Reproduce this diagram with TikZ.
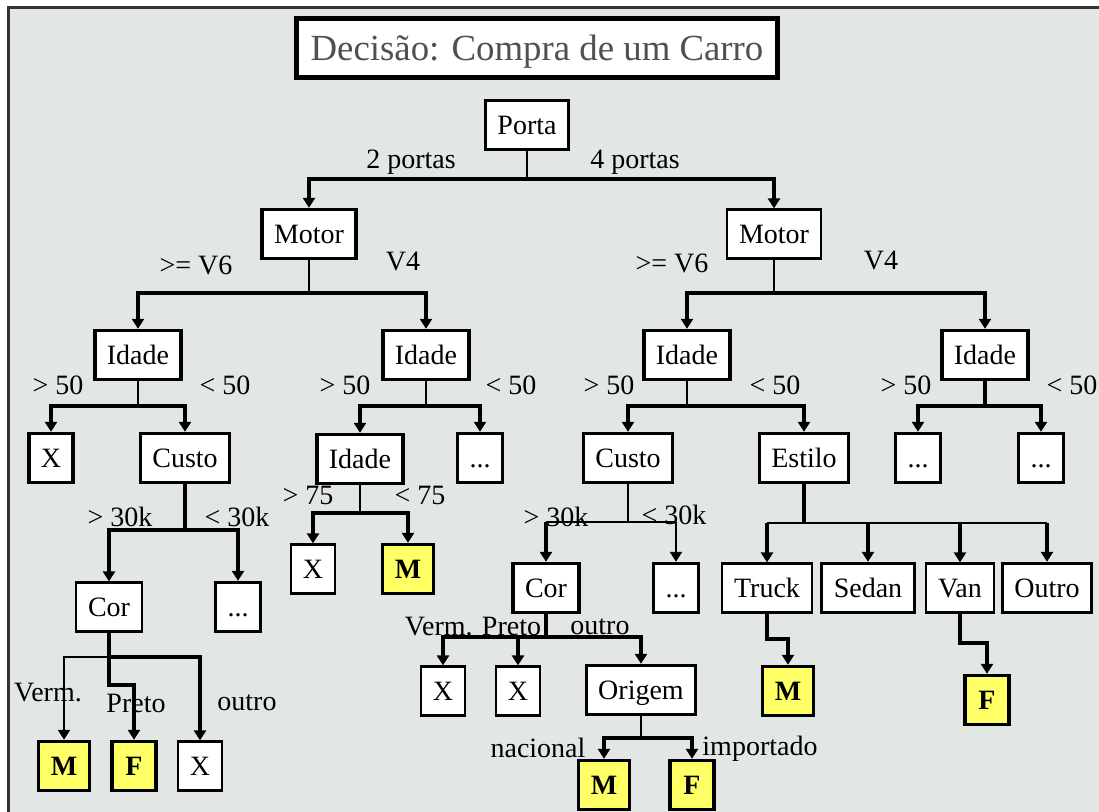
\documentclass[tikz,border=0pt]{standalone}
\usepackage{fontspec}
\setmainfont{Liberation Serif}
\usetikzlibrary{arrows.meta}
\definecolor{bggray}{RGB}{227,231,227}
\definecolor{leafyellow}{RGB}{255,255,102}
\definecolor{titlegray}{RGB}{80,80,80}
\begin{document}
\begin{tikzpicture}[x=0.5pt,y=-0.5pt,
    every node/.style={font=\fontsize{14}{16}\selectfont},
    main node/.style={rectangle,draw,fill=white,line width=1.7pt,inner xsep=6pt,inner ysep=0pt,
                      text height=12pt,text depth=2pt,minimum height=24.5pt,minimum width=22pt},
    light node/.style={main node,line width=1.1pt},
    leaf node/.style={main node,fill=leafyellow,font=\fontsize{14}{16}\selectfont\bfseries},
    stem/.style={line width=1pt},
    link/.style={line width=2pt,-{Triangle[width=6pt,length=5pt]}},
    thin link/.style={line width=1pt,-{Triangle[width=6pt,length=5pt]}}
  ]
  \useasboundingbox (0,0) rectangle (1099,812);
  \draw[fill=bggray,draw=black!80,line width=1.5pt] (8,8) rectangle (1130,840);

  \node[main node,line width=2.5pt,inner xsep=7pt,text height=16pt,text depth=3pt,minimum height=29.5pt,
        font=\fontsize{18.4}{22}\selectfont,text=titlegray] (title) at (537,48) {Decisão: Compra de um Carro};

  % decision nodes
  \node[main node] (porta) at (527,125) {Porta};
  \node[main node] (motorA) at (309,234) {Motor};
  \node[light node] (motorB) at (774,234) {Motor};
  \node[main node] (idadeA) at (138,355) {Idade};
  \node[main node] (idadeB) at (426,355) {Idade};
  \node[main node] (idadeC) at (687,355) {Idade};
  \node[main node] (idadeD) at (985,355) {Idade};
  \node[main node] (xA) at (51,458) {X};
  \node[main node] (custoA) at (185,458) {Custo};
  \node[main node] (idadeE) at (360,459) {Idade};
  \node[main node] (dotsA) at (480,458) {...};
  \node[main node] (custoB) at (628,458) {Custo};
  \node[main node] (estilo) at (804,458) {Estilo};
  \node[main node] (dotsB) at (918,458) {...};
  \node[main node] (dotsC) at (1041,458) {...};
  \node[light node] (xB) at (313,569) {X};
  \node[leaf node] (mA) at (408,569) {M};
  \node[light node] (corA) at (109,607) {Cor};
  \node[main node] (dotsD) at (238,607) {...};
  \node[main node] (corB) at (546,588) {Cor};
  \node[main node] (dotsE) at (676,588) {...};
  \node[light node] (truck) at (767,588) {Truck};
  \node[main node] (sedan) at (868,588) {Sedan};
  \node[light node] (van) at (960,588) {Van};
  \node[main node] (outro) at (1047,588) {Outro};
  \node[leaf node] (mB) at (64,766) {M};
  \node[leaf node] (fA) at (134,766) {F};
  \node[light node] (xC) at (200,766) {X};
  \node[light node] (xD) at (443,691) {X};
  \node[light node] (xE) at (518,691) {X};
  \node[main node] (origem) at (641,690) {Origem};
  \node[leaf node] (mC) at (604,785) {M};
  \node[leaf node] (fB) at (692,785) {F};
  \node[leaf node] (mD) at (788,691) {M};
  \node[leaf node] (fC) at (987,700) {F};

  % branch labels
  \node (l1) at (411,162) {2 portas};
  \node (l2) at (635,162) {4 portas};
  \node (l3) at (196,265) {>= V6};
  \node (l4) at (403,262) {V4};
  \node (l5) at (672,263) {>= V6};
  \node (l6) at (881,261) {V4};
  \node (l7) at (58,385) {> 50};
  \node (l8) at (225,385) {< 50};
  \node (l9) at (345,385) {> 50};
  \node (l10) at (511,385) {< 50};
  \node (l11) at (609,385) {> 50};
  \node (l12) at (775,385) {< 50};
  \node (l13) at (906,385) {> 50};
  \node (l14) at (1072,385) {< 50};
  \node (l15) at (120,517) {> 30k};
  \node (l16) at (237,517) {< 30k};
  \node (l17) at (308,495) {> 75};
  \node (l18) at (420,495) {< 75};
  \node (l19) at (556,517) {> 30k};
  \node (l20) at (674,515) {< 30k};
  \node (l21) at (48,693) {Verm.};
  \node (l22) at (136,703) {Preto};
  \node (l23) at (247,703) {outro};
  \node (l24) at (473,627) {Verm. Preto};
  \node (l25) at (600,627) {outro};
  \node (l26) at (538,748) {nacional};
  \node (l27) at (760,749) {importado};

  % junctions
  \coordinate (jPorta) at (527,179);
  \coordinate (jMotorA) at (309,293);
  \coordinate (jMotorB) at (774,293);
  \coordinate (jIdadeA) at (138,406);
  \coordinate (jIdadeB) at (426,406);
  \coordinate (jIdadeC) at (687,406);
  \coordinate (jIdadeD) at (985,406);
  \coordinate (jCustoA) at (185,530);
  \coordinate (jIdadeE) at (360,513);
  \coordinate (jCustoB) at (628,522);
  \coordinate (jEstilo) at (804,523);
  \coordinate (jCorA) at (109,657);
  \coordinate (kCorA) at (109,685);
  \coordinate (jCorB) at (546,637);
  \coordinate (jOrigem) at (641,738);
  \coordinate (kTruck) at (767,639);
  \coordinate (kVan) at (960,643);

  % connectors
  \draw[stem] (porta) -- (jPorta);
  \draw[link] (jPorta) -| (motorA);
  \draw[link] (jPorta) -| (motorB);
  \draw[stem] (motorA) -- (jMotorA);
  \draw[link] (jMotorA) -| (idadeA);
  \draw[link] (jMotorA) -| (idadeB);
  \draw[stem] (motorB) -- (jMotorB);
  \draw[link] (jMotorB) -| (idadeC);
  \draw[link] (jMotorB) -| (idadeD);
  \draw[stem] (idadeA) -- (jIdadeA);
  \draw[link] (jIdadeA) -| (xA);
  \draw[link] (jIdadeA) -| (custoA);
  \draw[stem] (idadeB) -- (jIdadeB);
  \draw[link] (jIdadeB) -| (idadeE);
  \draw[link] (jIdadeB) -| (dotsA);
  \draw[stem] (idadeC) -- (jIdadeC);
  \draw[link] (jIdadeC) -| (custoB);
  \draw[link] (jIdadeC) -| (estilo);
  \draw[line width=2pt] (idadeD) -- (jIdadeD);
  \draw[link] (jIdadeD) -| (dotsB);
  \draw[link] (jIdadeD) -| (dotsC);
  \draw[line width=2pt] (custoA) -- (jCustoA);
  \draw[link] (jCustoA) -| (corA);
  \draw[link] (jCustoA) -| (dotsD);
  \draw[stem] (idadeE) -- (jIdadeE);
  \draw[link] (jIdadeE) -| (xB);
  \draw[link] (jIdadeE) -| (mA);
  \draw[stem] (custoB) -- (jCustoB);
  \draw[stem] (corB |- jCustoB) -- (dotsE |- jCustoB);
  \draw[link] (corB |- jCustoB) -- (corB);
  \draw[thin link] (dotsE |- jCustoB) -- (dotsE);
  \draw[line width=2pt] (estilo) -- (jEstilo);
  \draw[line width=1.3pt] (truck |- jEstilo) -- (outro |- jEstilo);
  \draw[link] (truck |- jEstilo) -- (truck);
  \draw[link] (sedan |- jEstilo) -- (sedan);
  \draw[link] (van |- jEstilo) -- (van);
  \draw[link] (outro |- jEstilo) -- (outro);
  \draw[line width=2pt] (corA) -- (jCorA);
  \draw[thin link] (jCorA) -| (mB);
  \draw[link] (jCorA) -- (kCorA) -| (fA);
  \draw[link] (jCorA) -| (xC);
  \draw[line width=2pt] (corB) -- (jCorB);
  \draw[link] (jCorB) -| (xD);
  \draw[link] (jCorB) -| (xE);
  \draw[link] (jCorB) -| (origem);
  \draw[stem] (origem) -- (jOrigem);
  \draw[link] (jOrigem) -| (mC);
  \draw[link] (jOrigem) -| (fB);
  \draw[link] (truck) -- (kTruck) -| (mD);
  \draw[link] (van) -- (kVan) -| (fC);
\end{tikzpicture}
\end{document}
